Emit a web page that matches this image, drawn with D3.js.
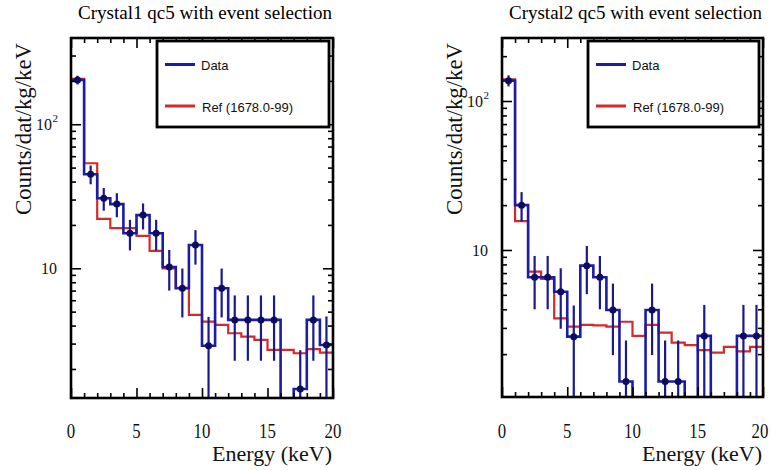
<!DOCTYPE html>
<html>
<head>
<meta charset="utf-8">
<script src="https://cdn.jsdelivr.net/npm/d3@7"></script>
<style>
  html, body { margin: 0; padding: 0; background: #fff; }
  svg { display: block; }
</style>
</head>
<body>
<div id="chart"></div>
<script>
// ---------------- data ----------------
const binEdges = [0,1,2,3,4,5,6,7,8,9,10,11,12,13,14,15,16,17,18,19,20];
const xTickLabels = ["0","5","10","15","20"];

const crystal1Data = [203,45,30.6,27.9,17.5,23.4,17.5,10.2,7.26,14.5,2.9,7.26,4.38,4.38,4.38,4.38,0,1.45,4.38,2.93];
const crystal1Err  = [14.2,6.7,5.5,5.3,4.2,4.8,4.2,3.2,2.7,3.9,1.7,2.7,2.1,2.1,2.1,2.1,0,1.25,2.1,1.7];
const crystal1Ref  = [207,53.6,22,19,19,16.8,13.2,10,7.3,4.74,4.26,4.04,3.54,3.35,3.18,2.71,2.71,2.57,2.75,2.6];

const crystal2Data = [137,20,6.56,6.56,5.25,2.62,7.85,6.56,3.96,1.31,0,3.96,1.31,1.31,0,2.65,0,0,2.65,2.65];
const crystal2Err  = [11.7,4.47,2.56,2.56,2.29,1.62,2.8,2.56,1.99,1.16,0,1.99,1.16,1.16,0,1.63,0,0,1.63,1.63];
const crystal2Ref  = [140,15.6,7.15,6.39,3.48,3.06,3.14,3.12,3.06,3.3,2.65,3.14,2.79,2.39,2.3,2.13,2.05,2.24,2.09,2.24];

const titles = ["Crystal1 qc5 with event selection", "Crystal2 qc5 with event selection"];
const legendLabels = ["Data", "Ref (1678.0-99)"];
const yLabel = "Counts/dat/kg/keV";
const xLabel = "Energy (keV)";

// ---------------- layout ----------------
const W = 771, H = 470;
const svg = d3.select("#chart").append("svg").attr("width", W).attr("height", H)
  .style("background", "#fff");

const panels = [
  { data: crystal1Data, err: crystal1Err, ref: crystal1Ref, title: titles[0],
    left: 71, right: 333, top: 38, bottom: 398, yDomain: [1.257, 397],
    yMajor: [10, 100], yMinor: [2,3,4,5,6,7,8,9,20,30,40,50,60,70,80,90,200,300] },
  { data: crystal2Data, err: crystal2Err, ref: crystal2Ref, title: titles[1],
    left: 502, right: 763, top: 38, bottom: 397, yDomain: [1.031, 264.8],
    yMajor: [10, 100], yMinor: [2,3,4,5,6,7,8,9,20,30,40,50,60,70,80,90,200] }
];

const BLUE = "#1c1ca6", NAVY = "#0c0c60", RED = "#d42a2a";
const serif = "'Liberation Serif','Times New Roman',serif";
const sans = "'Liberation Sans',Arial,Helvetica,sans-serif";

panels.forEach((p, pi) => {
  const g = svg.append("g");
  const x = d3.scaleLinear().domain([binEdges[0], binEdges[binEdges.length-1]]).range([p.left, p.right]);
  const y = d3.scaleLog().domain(p.yDomain).range([p.bottom, p.top]);
  const off = p.left - 71;

  const clipId = "clip" + pi;
  g.append("clipPath").attr("id", clipId).append("rect")
    .attr("x", p.left).attr("y", p.top).attr("width", p.right - p.left).attr("height", p.bottom - p.top);
  const plot = g.append("g").attr("clip-path", `url(#${clipId})`);

  const yv = v => v > 0 ? y(v) : p.bottom + 10;
  function stepPath(vals) {
    let d = `M${x(binEdges[0])},${yv(vals[0])}`;
    for (let i = 0; i < vals.length; i++) {
      d += `H${x(binEdges[i+1])}`;
      if (i < vals.length - 1) d += `V${yv(vals[i+1])}`;
    }
    return d;
  }

  // reference histogram
  plot.append("path").attr("d", stepPath(p.ref)).attr("fill", "none")
    .attr("stroke", RED).attr("stroke-width", 2.2);
  // data histogram
  plot.append("path").attr("d", stepPath(p.data)).attr("fill", "none")
    .attr("stroke", BLUE).attr("stroke-width", 2.6);

  const centers = p.data.map((v, i) => ({ v, e: p.err[i], c: (binEdges[i] + binEdges[i+1]) / 2 }))
    .filter(d => d.v > 0);
  plot.selectAll("line.err").data(centers).join("line").attr("class", "err")
    .attr("x1", d => x(d.c)).attr("x2", d => x(d.c))
    .attr("y1", d => y(d.v + d.e))
    .attr("y2", d => (d.v - d.e) > 0.05 ? y(d.v - d.e) : p.bottom + 10)
    .attr("stroke", "#1a1a90").attr("stroke-width", 2.2);
  plot.selectAll("circle.pt").data(centers).join("circle").attr("class", "pt")
    .attr("cx", d => x(d.c)).attr("cy", d => y(d.v)).attr("r", 3.5)
    .attr("fill", NAVY);

  // axes ticks (inward)
  const xMajor = [0,5,10,15,20];
  const xMinor = binEdges.filter(v => v % 5 !== 0);
  const styleAxis = sel => { sel.select(".domain").remove(); sel.selectAll("line").attr("stroke", "#000").attr("stroke-width", 1.6); };
  g.append("g").attr("transform", `translate(0,${p.bottom})`)
    .call(d3.axisBottom(x).tickValues(xMajor).tickSize(-10).tickFormat("")).call(styleAxis);
  g.append("g").attr("transform", `translate(0,${p.bottom})`)
    .call(d3.axisBottom(x).tickValues(xMinor).tickSize(-5).tickFormat("")).call(styleAxis);
  g.append("g").attr("transform", `translate(0,${p.top})`)
    .call(d3.axisTop(x).tickValues(xMajor).tickSize(-10).tickFormat("")).call(styleAxis);
  g.append("g").attr("transform", `translate(0,${p.top})`)
    .call(d3.axisTop(x).tickValues(xMinor).tickSize(-5).tickFormat("")).call(styleAxis);
  g.append("g").attr("transform", `translate(${p.left},0)`)
    .call(d3.axisLeft(y).tickValues(p.yMajor).tickSize(-10).tickFormat("")).call(styleAxis);
  g.append("g").attr("transform", `translate(${p.left},0)`)
    .call(d3.axisLeft(y).tickValues(p.yMinor).tickSize(-5).tickFormat("")).call(styleAxis);
  g.append("g").attr("transform", `translate(${p.right},0)`)
    .call(d3.axisRight(y).tickValues(p.yMajor).tickSize(-10).tickFormat("")).call(styleAxis);
  g.append("g").attr("transform", `translate(${p.right},0)`)
    .call(d3.axisRight(y).tickValues(p.yMinor).tickSize(-5).tickFormat("")).call(styleAxis);

  // frame
  g.append("rect").attr("x", p.left).attr("y", p.top)
    .attr("width", p.right - p.left).attr("height", p.bottom - p.top)
    .attr("fill", "none").attr("stroke", "#000").attr("stroke-width", 2.6);

  // x tick labels
  xMajor.forEach((v, i) => {
    const s = xTickLabels[i];
    const tl = 8.4 * s.length;
    const cx = Math.min(x(v), W - 11);
    g.append("text").attr("x", cx).attr("y", 438).attr("text-anchor", "middle")
      .attr("font-family", serif).attr("font-size", 20)
      .attr("textLength", tl).attr("lengthAdjust", "spacingAndGlyphs")
      .attr("fill", "#111").text(s);
  });

  // y tick labels
  g.append("text").attr("y", y(100) + 6).attr("x", 36 + off)
    .attr("font-family", serif).attr("font-size", 16).attr("fill", "#111").text("10");
  g.append("text").attr("y", y(100) - 2).attr("x", 52.5 + off)
    .attr("font-family", serif).attr("font-size", 11).attr("fill", "#111").text("2");
  g.append("text").attr("y", y(10) + 6).attr("x", 57 + off).attr("text-anchor", "end")
    .attr("font-family", serif).attr("font-size", 16).attr("fill", "#111").text("10");

  // title
  g.append("text").attr("x", p.left + 7).attr("y", 19)
    .attr("font-family", serif).attr("font-size", 18).attr("fill", "#000")
    .attr("textLength", (p.right - p.left) - 8).attr("lengthAdjust", "spacingAndGlyphs")
    .text(p.title);

  // axis titles
  g.append("text").attr("transform", `translate(${31 + off},215) rotate(-90)`)
    .attr("font-family", serif).attr("font-size", 24).attr("fill", "#111")
    .attr("textLength", 172).attr("lengthAdjust", "spacingAndGlyphs").text(yLabel);
  g.append("text").attr("x", p.right - 121).attr("y", 461)
    .attr("font-family", serif).attr("font-size", 22).attr("fill", "#111")
    .attr("textLength", 120).attr("lengthAdjust", "spacingAndGlyphs").text(xLabel);

  // legend
  const lx = 157 + off, lw = p.right - 4 - (157 + off);
  g.append("rect").attr("x", lx).attr("y", 41).attr("width", lw).attr("height", 86)
    .attr("fill", "#fff").attr("stroke", "#000").attr("stroke-width", 2.8);
  g.append("line").attr("x1", lx + 8).attr("x2", lx + 38).attr("y1", 64.5).attr("y2", 64.5)
    .attr("stroke", BLUE).attr("stroke-width", 3);
  g.append("line").attr("x1", lx + 8).attr("x2", lx + 38).attr("y1", 106).attr("y2", 106)
    .attr("stroke", RED).attr("stroke-width", 3);
  g.append("text").attr("x", lx + 44).attr("y", 70).attr("font-family", sans).attr("font-size", 13)
    .attr("fill", "#111").text(legendLabels[0]);
  g.append("text").attr("x", lx + 45).attr("y", 111.5).attr("font-family", sans).attr("font-size", 13)
    .attr("fill", "#111").text(legendLabels[1]);
});
</script>
</body>
</html>
